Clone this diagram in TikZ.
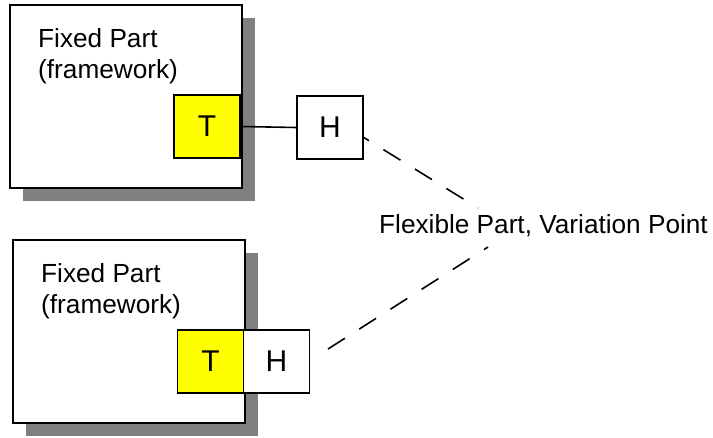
\documentclass[tikz,border=0pt]{standalone}
\usepackage{fontspec}
\setmainfont{Liberation Sans}
\usetikzlibrary{shadows}
\definecolor{shadowgray}{RGB}{128,128,128}
\definecolor{tyellow}{RGB}{255,255,0}
\begin{document}
\begin{tikzpicture}[x=1pt,y=-1pt,
  every node/.style={font=\fontsize{26.2}{31}\selectfont},
  bigbox/.style={draw=black, fill=white, line width=1.6pt, minimum width=232pt, minimum height=183pt, inner sep=0pt,
    drop shadow={shadow xshift=13pt, shadow yshift=-13pt, fill=shadowgray, opacity=1}},
  tbox/.style={draw=black, fill=tyellow, line width=1.6pt, minimum width=66pt, minimum height=63pt, inner sep=0pt, font=\fontsize{30}{34}\selectfont},
  hbox/.style={draw=black, fill=white, line width=1.6pt, minimum width=66pt, minimum height=63pt, inner sep=0pt, font=\fontsize{30}{34}\selectfont},
  lbl/.style={anchor=base west, inner sep=0pt},
  conn/.style={line width=1.6pt},
  flexconn/.style={line width=1.6pt, dash pattern=on 20pt off 17pt}]
\useasboundingbox (0,0) rectangle (713,437);
% top framework
\node[bigbox] (fw1) at (126,96.5) {};
\node[lbl] (fa1) at (38,47) {Fixed Part};
\node[lbl] (fb1) at (38,78) {(framework)};
\node[tbox] (t1) at (207,126.5) {T};
\node[hbox] (h1) at (330,127.5) {H};
\draw[conn] (t1.east) -- (h1.west);
% bottom framework
\node[bigbox] (fw2) at (129,331.5) {};
\node[lbl] (fa2) at (41,282) {Fixed Part};
\node[lbl] (fb2) at (41,313) {(framework)};
\node[tbox] (t2) at (210.5,361.5) {T};
\node[hbox] (h2) at (276.5,361.5) {H};
% flexible part
\node[lbl] (flex) at (379,233) {Flexible Part, Variation Point};
\coordinate (d1s) at (363,137);
\coordinate (d1e) at (478,208);
\coordinate (d2s) at (328,349);
\coordinate (d2e) at (488,247);
\draw[flexconn, dash phase=13pt] (d1s) -- (d1e);
\draw[flexconn] (d2s) -- (d2e);
\end{tikzpicture}
\end{document}
